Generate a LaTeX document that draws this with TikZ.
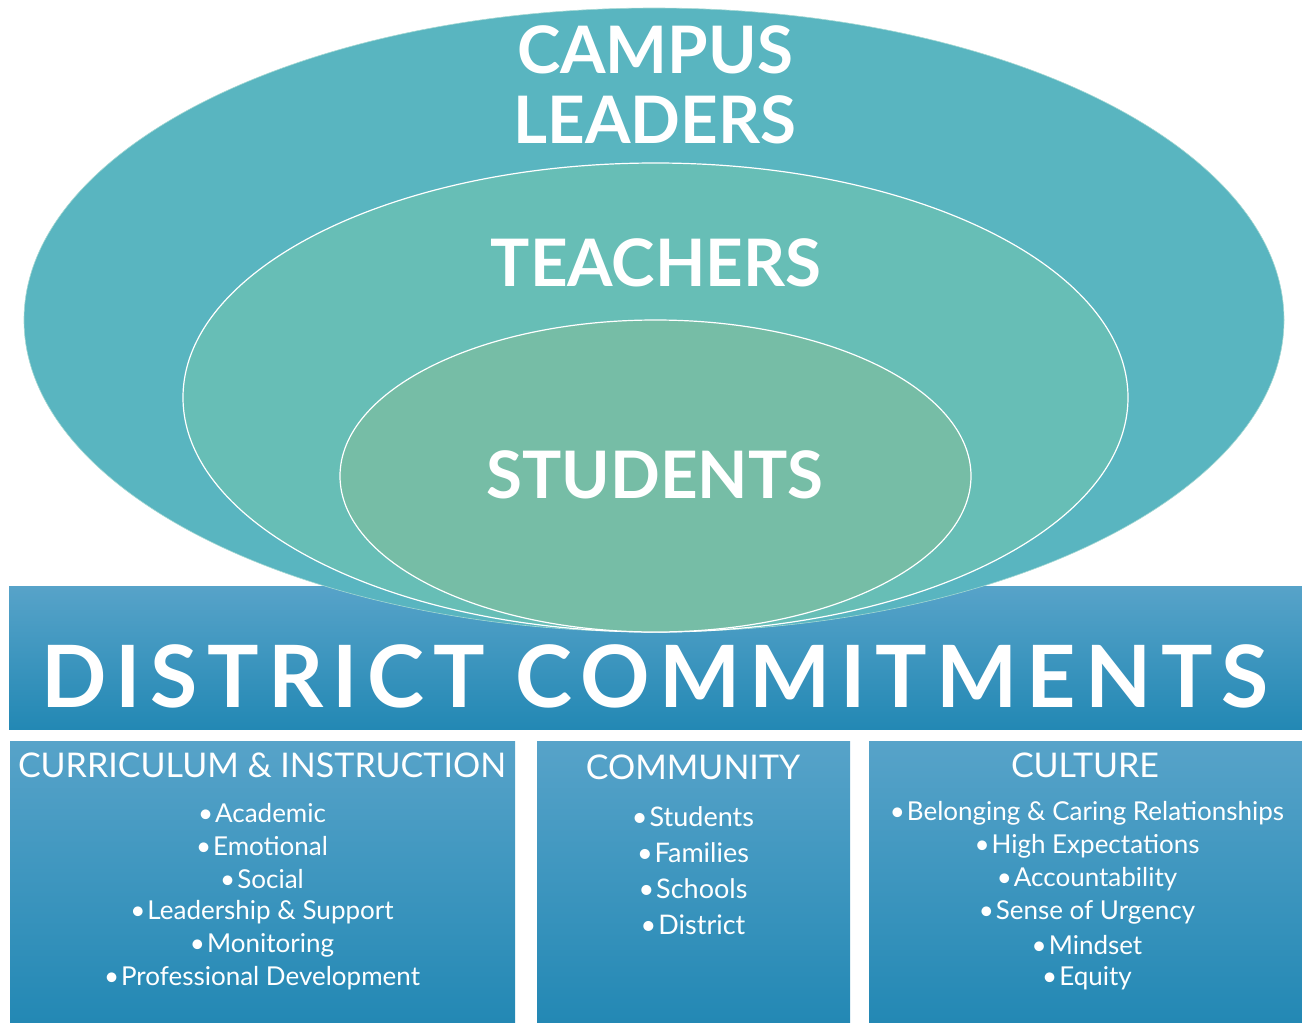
\documentclass[tikz,border=0pt]{standalone}
\usepackage{fontspec}
\setmainfont{Lato}
\usepackage{tikz}

\definecolor{leadcol}{HTML}{59B5C0}
\definecolor{teachcol}{HTML}{67BEB6}
\definecolor{studcol}{HTML}{76BDA6}
\definecolor{bluetop}{HTML}{57A3C9}
\definecolor{bluebot}{HTML}{2388B4}

\begin{document}
\begin{tikzpicture}[x=1pt, y=-1pt,
    ring/.style={draw=white, line width=1.2pt},
    panel/.style={top color=bluetop, bottom color=bluebot, draw=none},
    bigword/.style={text=white, font=\bfseries\fontsize{65.5}{70}\selectfont, align=center},
    headword/.style={text=white, font=\fontsize{34}{36}\selectfont},
    item/.style={text=white, font=\fontsize{26}{28}\selectfont, inner sep=0pt}]
    \useasboundingbox (0,0) rectangle (1302,1023);
    % banner and the three panels
    \shade[panel] (9,586) rectangle (1302,729);
    \shade[panel] (10,741) rectangle (515,1023);
    \shade[panel] (537,741) rectangle (850,1023);
    \shade[panel] (869,741) rectangle (1302,1023);
    % nested ellipses
    \fill[leadcol] (654,320) ellipse [x radius=630, y radius=312];
    \draw[ring, teachcol!60!white, line width=0.6pt] (654,320) ellipse [x radius=630, y radius=312];
    \filldraw[ring, fill=teachcol] (655.5,397.5) ellipse [x radius=472.5, y radius=234.5];
    \filldraw[ring, fill=studcol] (655.5,476) ellipse [x radius=315.5, y radius=156];
    \node[bigword] (leaders) at (655,85) {CAMPUS\\LEADERS};
    \node[bigword] (teachers) at (656,263) {TEACHERS};
    \node[bigword] (students) at (655,475) {STUDENTS};
    \node[text=white, font=\bfseries\fontsize{86}{90}\selectfont\addfontfeature{LetterSpace=10.8}] (district) at (655,676) {DISTRICT COMMITMENTS};
    % panel titles
    \node[headword] (ci) at (262,765) {CURRICULUM \& INSTRUCTION};
    \node[headword] (comm) at (693,767) {COMMUNITY};
    \node[headword] (cult) at (1085,765) {CULTURE};
    % bullet lists
    \foreach \t [count=\i] in {Academic, Emotional, Social, Leadership \& Support, Monitoring, Professional Development}
        \node[item] (ci\i) at (262,813+33*\i-33) {\textbullet\kern2pt\t};
    \foreach \t [count=\i] in {Students, Families, Schools, District}
        \node[item, font=\fontsize{27}{30}\selectfont] (comm\i) at (693,817+36*\i-36) {\textbullet\kern2pt\t};
    \foreach \t [count=\i] in {Belonging \& Caring Relationships, High Expectations, Accountability, Sense of Urgency, Mindset, Equity}
        \node[item] (cult\i) at (1087,813+33*\i-33) {\textbullet\kern2pt\t};
\end{tikzpicture}
\end{document}
